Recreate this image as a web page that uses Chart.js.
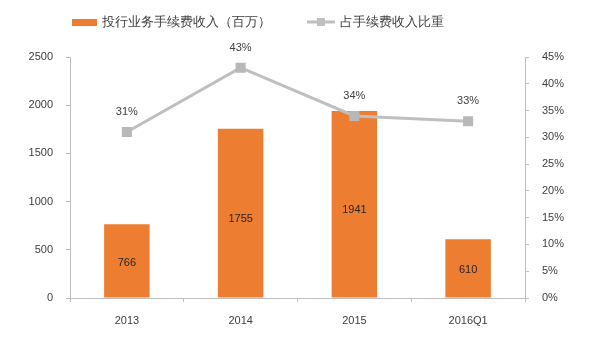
<!DOCTYPE html>
<html><head><meta charset="utf-8">
<script src="https://cdn.jsdelivr.net/npm/chart.js@4/dist/chart.umd.min.js"></script>
<style>html,body{margin:0;padding:0;background:#fff}#wrap{width:600px;height:337px}</style>
</head><body><div id="wrap"><canvas id="c" width="600" height="337"></canvas></div>
<script>
const categories = ['2013', '2014', '2015', '2016Q1'];
const feeIncome = [766, 1755, 1941, 610];
const feeShare = [31, 43, 34, 33];
const leftTicks = [0, 500, 1000, 1500, 2000, 2500];
const rightTicks = [0, 5, 10, 15, 20, 25, 30, 35, 40, 45];
const seriesNames = ['投行业务手续费收入（百万）', '占手续费收入比重'];

const ORANGE = '#ed7d31', GREY = '#bfbfbf', TXT = '#404040', AXIS = '#bfbfbf';
const FONT = '"Liberation Sans", Arial, sans-serif';

const labelPlugin = {
  id: 'labels',
  afterDatasetsDraw(chart) {
    const ctx = chart.ctx;
    const y = chart.scales.y, y2 = chart.scales.y2;
    const barMeta = chart.getDatasetMeta(0), lineMeta = chart.getDatasetMeta(1);
    ctx.save();
    ctx.font = '11px ' + FONT;
    ctx.fillStyle = '#262626';
    ctx.textAlign = 'center';
    ctx.textBaseline = 'middle';
    barMeta.data.forEach((el, i) => {
      ctx.fillText(String(feeIncome[i]), el.x, y.getPixelForValue(feeIncome[i] * 0.47));
    });
    ctx.fillStyle = TXT;
    lineMeta.data.forEach((el, i) => {
      ctx.fillText(feeShare[i] + '%', el.x, y2.getPixelForValue(feeShare[i]) - 20);
    });
    // legend
    ctx.font = '13px ' + FONT;
    ctx.textAlign = 'left';
    ctx.fillStyle = ORANGE;
    ctx.fillRect(72, 19, 25, 7);
    ctx.fillStyle = TXT;
    ctx.fillText(seriesNames[0], 102, 22);
    ctx.strokeStyle = GREY; ctx.lineWidth = 3;
    ctx.beginPath(); ctx.moveTo(307, 22); ctx.lineTo(335, 22); ctx.stroke();
    ctx.fillStyle = GREY; ctx.fillRect(317, 18, 8, 8);
    ctx.fillStyle = TXT;
    ctx.fillText(seriesNames[1], 340, 22);
    ctx.restore();
  }
};

new Chart(document.getElementById('c'), {
  data: {
    labels: categories,
    datasets: [
      { type: 'bar', label: seriesNames[0], data: feeIncome, backgroundColor: ORANGE,
        barPercentage: 0.4, categoryPercentage: 1, yAxisID: 'y', order: 2 },
      { type: 'line', label: seriesNames[1], data: feeShare, borderColor: GREY, borderWidth: 3,
        pointStyle: 'rect', pointRadius: 5, pointBackgroundColor: '#b8b8b8', pointBorderColor: '#b8b8b8',
        yAxisID: 'y2', order: 1, tension: 0 }
    ]
  },
  options: {
    responsive: false, animation: false, devicePixelRatio: 1,
    layout: { padding: { top: 57, right: 0, left: 0, bottom: 0 } },
    plugins: { legend: { display: false }, tooltip: { enabled: false } },
    scales: {
      x: {
        grid: { display: true, drawOnChartArea: false, offset: true, color: AXIS, tickLength: 4, tickColor: AXIS },
        border: { color: AXIS, width: 1 },
        ticks: { color: TXT, font: { family: FONT, size: 11 }, padding: 12 },
        afterFit(s) { s.height = 39; }
      },
      y: {
        position: 'left', min: 0, max: 2500,
        afterBuildTicks(s) { s.ticks = leftTicks.map(v => ({ value: v })); },
        grid: { drawOnChartArea: false, color: AXIS, tickLength: 4 },
        border: { color: AXIS, width: 1 },
        ticks: { color: TXT, font: { family: FONT, size: 11 }, padding: 13, callback: v => String(v) },
        afterFit(s) { s.width = 70; }
      },
      y2: {
        position: 'right', min: 0, max: 45,
        afterBuildTicks(s) { s.ticks = rightTicks.map(v => ({ value: v })); },
        grid: { drawOnChartArea: false, color: AXIS, tickLength: 4 },
        border: { color: AXIS, width: 1 },
        ticks: { color: TXT, font: { family: FONT, size: 11 }, padding: 13, callback: v => v + '%' },
        afterFit(s) { s.width = 75; }
      }
    }
  },
  plugins: [labelPlugin]
});
</script></body></html>
